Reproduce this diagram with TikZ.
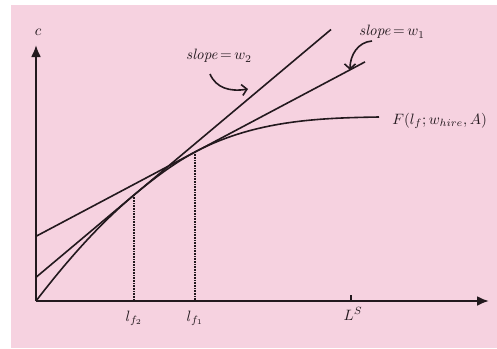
\documentclass[tikz,border=0pt]{standalone}
\usetikzlibrary{arrows.meta}
\definecolor{bgpink}{RGB}{246,210,224}
\definecolor{ink}{RGB}{35,25,30}
\tikzset{
  axis/.style={ink,line width=2.2pt,-{Latex[length=12pt,width=10pt]}},
  thinline/.style={ink,line width=1.6pt},
  dotline/.style={ink,line width=1.6pt,dash pattern=on 0.8pt off 0.8pt},
  pointer/.style={ink,line width=1.6pt,-{Straight Barb[length=5pt,width=11pt]}},
  lbl/.style={ink,inner sep=0pt,scale=1.5}
}
\begin{document}
\begin{tikzpicture}[x=1pt,y=-1pt]
\useasboundingbox (0,0) rectangle (497,348);
\fill[bgpink] (11,5) rectangle (497,348);
% key points
\coordinate (O) at (36,301);
\coordinate (ytip) at (36,45);
\coordinate (xtip) at (489,301);
\coordinate (T2) at (134,195);
\coordinate (T1) at (195,152);
\coordinate (Fend) at (379,117);
\coordinate (A2) at (36,277.3);
\coordinate (B2) at (331,29.5);
\coordinate (A1) at (36,236.3);
\coordinate (B1) at (365,61.9);
\coordinate (X2) at (134,301);
\coordinate (X1) at (195,301);
\coordinate (LS) at (351,301);
\coordinate (LStop) at (351,295);
% axes
\draw[axis] (O) -- (ytip);
\draw[axis] (O) -- (xtip);
\draw[ink,line width=1.3pt] (LS) -- (LStop);
% production function
\draw[thinline] (O) .. controls (69,258) and (101,222.7) .. (T2)
  .. controls (154,178.2) and (175,162.6) .. (T1)
  .. controls (255,120.2) and (319,118) .. (Fend);
% tangent lines
\draw[thinline] (A2) -- (B2);
\draw[thinline] (A1) -- (B1);
% dotted drops
\draw[dotline] (T2) -- (X2);
\draw[dotline] (T1) -- (X1);
% labels
\node[lbl] (c) at (38,32) {$c$};
\node[lbl] (s2) at (219,56) {\textit{slope}$\,{=}\,w_2$};
\node[lbl] (s1) at (392,32) {\textit{slope}$\,{=}\,w_1$};
\node[lbl,anchor=west] (F) at (392,121) {$F(l_f;w_{hire},A)$};
\node[lbl] (lf2) at (134,318) {$l_{f_2}$};
\node[lbl] (lf1) at (195,318) {$l_{f_1}$};
\node[lbl] (Ls) at (353,314) {$L^S$};
% pointer arrows
\coordinate (p2s) at (210,74);
\coordinate (p2e) at (248,89);
\coordinate (p1s) at (372,41);
\coordinate (p1e) at (350,70);
\draw[pointer] (p2s) .. controls (216,88) and (230,92) .. (p2e);
\draw[pointer] (p1s) .. controls (358,42) and (350,55) .. (p1e);
\end{tikzpicture}
\end{document}
